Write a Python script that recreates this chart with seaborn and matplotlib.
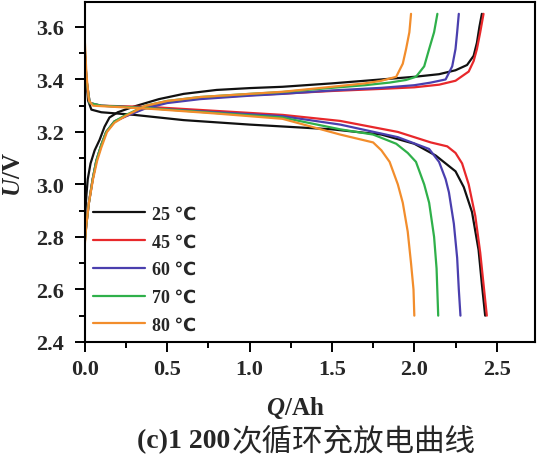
import numpy as np
import pandas as pd
import seaborn as sns
from matplotlib import pyplot as plt
from matplotlib.ticker import MultipleLocator

# 充电曲线 (Q/Ah, U/V)
c25_q = [0.0, 0.004, 0.01, 0.018, 0.035, 0.06, 0.09, 0.12, 0.15, 0.2, 0.3, 0.45, 0.6, 0.8, 1.0, 1.2, 1.5, 1.8, 2.0, 2.15, 2.25, 2.32, 2.36, 2.38, 2.395, 2.41]
c25_u = [2.84, 2.9, 2.96, 3.02, 3.08, 3.13, 3.17, 3.22, 3.255, 3.275, 3.297, 3.325, 3.345, 3.36, 3.367, 3.372, 3.385, 3.4, 3.41, 3.42, 3.435, 3.455, 3.49, 3.54, 3.6, 3.65]
c45_q = [0.0, 0.01, 0.025, 0.048, 0.07, 0.1, 0.13, 0.18, 0.25, 0.37, 0.5, 0.7, 1.0, 1.2, 1.5, 1.8, 2.0, 2.15, 2.25, 2.33, 2.36, 2.38, 2.4, 2.42]
c45_u = [2.78, 2.85, 2.93, 3.02, 3.09, 3.15, 3.2, 3.24, 3.26, 3.293, 3.313, 3.328, 3.34, 3.346, 3.356, 3.364, 3.37, 3.38, 3.395, 3.43, 3.47, 3.516, 3.58, 3.65]
c60_q = [0.0, 0.01, 0.025, 0.048, 0.07, 0.1, 0.13, 0.18, 0.25, 0.37, 0.5, 0.7, 1.0, 1.2, 1.5, 1.8, 2.0, 2.1, 2.19, 2.23, 2.25, 2.26, 2.27]
c60_u = [2.79, 2.85, 2.93, 3.02, 3.09, 3.15, 3.2, 3.24, 3.26, 3.29, 3.31, 3.325, 3.338, 3.345, 3.358, 3.368, 3.378, 3.388, 3.4, 3.45, 3.516, 3.58, 3.65]
c70_q = [0.0, 0.01, 0.025, 0.048, 0.07, 0.1, 0.13, 0.18, 0.25, 0.37, 0.5, 0.7, 1.0, 1.2, 1.5, 1.7, 1.85, 1.95, 2.01, 2.06, 2.09, 2.12, 2.14]
c70_u = [2.78, 2.85, 2.93, 3.02, 3.09, 3.15, 3.2, 3.24, 3.265, 3.3, 3.318, 3.333, 3.345, 3.352, 3.368, 3.378, 3.388, 3.398, 3.41, 3.45, 3.516, 3.58, 3.65]
c80_q = [0.0, 0.01, 0.025, 0.05, 0.075, 0.1, 0.135, 0.18, 0.25, 0.37, 0.5, 0.7, 1.0, 1.2, 1.5, 1.7, 1.8, 1.89, 1.93, 1.95, 1.97, 1.98]
c80_u = [2.77, 2.85, 2.93, 3.02, 3.09, 3.14, 3.2, 3.235, 3.262, 3.3, 3.318, 3.333, 3.345, 3.353, 3.372, 3.385, 3.395, 3.41, 3.46, 3.516, 3.58, 3.65]

# 放电曲线
d25_q = [0.0, 0.01, 0.02, 0.04, 0.1, 0.3, 0.6, 1.0, 1.5, 1.8, 2.0, 2.13, 2.25, 2.3, 2.35, 2.39, 2.41, 2.43]
d25_u = [3.52, 3.4, 3.32, 3.285, 3.275, 3.265, 3.245, 3.228, 3.21, 3.19, 3.155, 3.11, 3.05, 2.99, 2.895, 2.75, 2.62, 2.5]
d45_q = [0.0, 0.01, 0.03, 0.1, 0.4, 0.8, 1.2, 1.55, 1.9, 2.1, 2.2, 2.25, 2.29, 2.33, 2.37, 2.4, 2.42, 2.44]
d45_u = [3.5, 3.4, 3.31, 3.3, 3.295, 3.28, 3.265, 3.242, 3.2, 3.16, 3.145, 3.12, 3.08, 3.0, 2.88, 2.74, 2.62, 2.5]
d60_q = [0.0, 0.01, 0.03, 0.1, 0.4, 0.8, 1.2, 1.55, 1.9, 2.09, 2.15, 2.19, 2.21, 2.24, 2.26, 2.27, 2.28]
d60_u = [3.5, 3.4, 3.31, 3.3, 3.29, 3.275, 3.26, 3.228, 3.18, 3.135, 3.086, 3.02, 2.97, 2.85, 2.72, 2.6, 2.5]
d70_q = [0.0, 0.01, 0.03, 0.1, 0.4, 0.8, 1.2, 1.55, 1.75, 1.89, 1.96, 2.01, 2.06, 2.09, 2.12, 2.135, 2.145]
d70_u = [3.5, 3.4, 3.31, 3.3, 3.29, 3.272, 3.255, 3.21, 3.19, 3.155, 3.12, 3.086, 3.0, 2.93, 2.8, 2.68, 2.5]
d80_q = [0.0, 0.01, 0.025, 0.05, 0.4, 0.8, 1.2, 1.55, 1.65, 1.75, 1.8, 1.85, 1.9, 1.93, 1.96, 1.98, 1.995, 2.0]
d80_u = [3.55, 3.42, 3.32, 3.3, 3.288, 3.27, 3.25, 3.19, 3.175, 3.16, 3.13, 3.086, 3.0, 2.93, 2.82, 2.7, 2.6, 2.5]

temps = ["25 ℃", "45 ℃", "60 ℃", "70 ℃", "80 ℃"]
colors = ["#111111", "#e8282b", "#4a3fae", "#2fb04a", "#f28d2c"]

charge = [(c25_q, c25_u), (c45_q, c45_u), (c60_q, c60_u), (c70_q, c70_u), (c80_q, c80_u)]
discharge = [(d25_q, d25_u), (d45_q, d45_u), (d60_q, d60_u), (d70_q, d70_u), (d80_q, d80_u)]

frames = []
for t, (q, u) in zip(temps, charge):
    frames.append(pd.DataFrame({"Q": q, "U": u, "temp": t, "curve": t + " c"}))
for t, (q, u) in zip(temps, discharge):
    frames.append(pd.DataFrame({"Q": q, "U": u, "temp": t, "curve": t + " d"}))
df = pd.concat(frames, ignore_index=True)

sns.set_theme(style="ticks")
plt.rcParams['font.family'] = ['Liberation Serif', 'DejaVu Sans']
plt.rcParams['mathtext.fontset'] = 'custom'
plt.rcParams['mathtext.it'] = 'Liberation Serif:italic:bold'
plt.rcParams['mathtext.rm'] = 'Liberation Serif:bold'

fig = plt.figure(figsize=(5.4, 4.64), dpi=100)
ax = fig.add_axes([0.157, 0.261, 0.833, 0.7325])

sns.lineplot(data=df, x="Q", y="U", hue="temp", units="curve", estimator=None, sort=False,
             palette=dict(zip(temps, colors)), hue_order=temps, linewidth=1.6, ax=ax)

ax.set_xlim(0, 2.73)
ax.set_ylim(2.4, 3.695)
ax.xaxis.set_major_locator(MultipleLocator(0.5))
ax.xaxis.set_minor_locator(MultipleLocator(0.25))
ax.yaxis.set_major_locator(MultipleLocator(0.2))
ax.yaxis.set_minor_locator(MultipleLocator(0.1))
ax.xaxis.set_major_formatter(lambda v, p: f"{v:.1f}")
ax.yaxis.set_major_formatter(lambda v, p: f"{v:.1f}")
ax.tick_params(axis='both', which='major', length=7, width=1.4, direction='out', labelsize=16, color='black')
ax.tick_params(axis='both', which='minor', length=4, width=1.4, direction='out', color='black')
ax.tick_params(axis='y', which='major', pad=8)
ax.tick_params(axis='x', which='major', pad=5)
for lab in ax.get_xticklabels() + ax.get_yticklabels():
    lab.set_fontweight('bold')
for s in ax.spines.values():
    s.set_visible(True)
    s.set_linewidth(1.5)
    s.set_color('black')
ax.set_xlabel("")
ax.set_ylabel("")

handles, labels = ax.get_legend_handles_labels()
ax.legend(handles, labels, loc='lower left', bbox_to_anchor=(0.0, 0.0), frameon=False,
          handlelength=2.9, handletextpad=0.35, labelspacing=0.6, borderaxespad=0.0, borderpad=0.45,
          prop={'family': ['Liberation Serif', 'DejaVu Sans'], 'weight': 'bold', 'size': 13})

fig.text(295 / 540, 1 - 408 / 464, r"$\mathit{Q}$/Ah", ha='center', va='center', fontsize=18, fontweight='bold')
fig.text(14 / 540, 1 - 175 / 464, r"$\mathit{U}$/V", ha='center', va='center', rotation=90, fontsize=18, fontweight='bold')
fig.text(230 / 540, 1 - 442 / 464, "(c)1 200", ha='right', va='center', fontsize=20, fontweight='bold')
fig.text(232 / 540, 1 - 442 / 464, "次循环充放电曲线", ha='left', va='center', fontsize=22,
         family=['Noto Sans CJK SC', 'DejaVu Sans'])

fig.savefig("out.png", dpi=100)
